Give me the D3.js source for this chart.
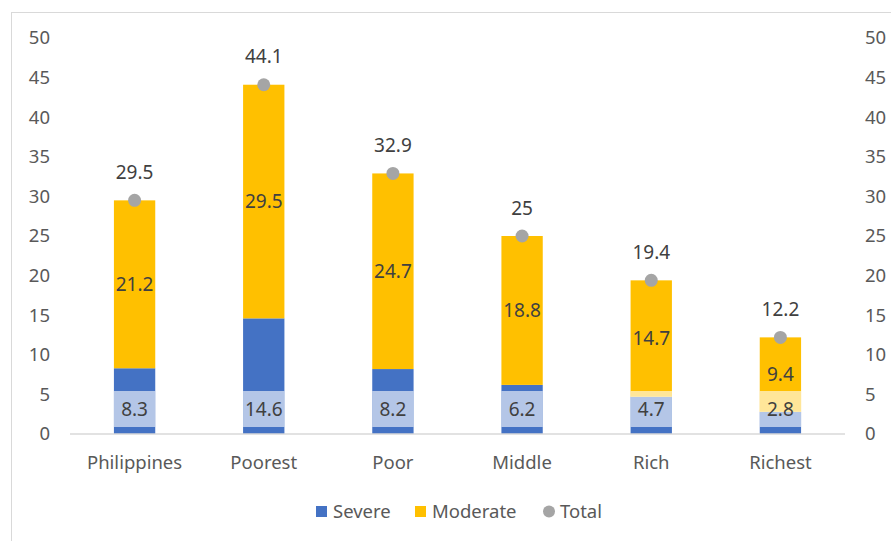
<!DOCTYPE html>
<html><head><meta charset="utf-8">
<script src="https://cdn.jsdelivr.net/npm/d3@7"></script>
<style>body{margin:0;background:#fff}svg{display:block}text{font-family:"Noto Sans","Open Sans",sans-serif}</style>
</head><body><div id="c"></div>
<script>
const categories = ["Philippines","Poorest","Poor","Middle","Rich","Richest"];
const severe = [8.3,14.6,8.2,6.2,4.7,2.8];
const moderate = [21.2,29.5,24.7,18.8,14.7,9.4];
const total = [29.5,44.1,32.9,25,19.4,12.2];
const yTicks = [0,5,10,15,20,25,30,35,40,45,50];
const seriesNames = ["Severe","Moderate","Total"];

const W=891,H=541;
const svg=d3.select("#c").append("svg").attr("width",W).attr("height",H);
svg.append("rect").attr("x",11.5).attr("y",12.5).attr("width",W).attr("height",H).attr("fill","none").attr("stroke","#d9d9d9");

const x=d3.scaleBand().domain(categories).range([70,845]).paddingInner(0.68).paddingOuter(0.34);
const y=d3.scaleLinear().domain([0,50]).range([434,38]);

const lab="#595959";
const fs="18.5px";
// left and right axes
const gl=svg.append("g").attr("transform","translate(50,0)").call(d3.axisLeft(y).tickValues(yTicks).tickSize(0).tickPadding(0));
gl.select(".domain").remove();
gl.selectAll("text").attr("fill",lab).style("font-size",fs).attr("text-anchor","end");
const gr=svg.append("g").attr("transform","translate(865,0)").call(d3.axisRight(y).tickValues(yTicks).tickSize(0).tickPadding(0));
gr.select(".domain").remove();
gr.selectAll("text").attr("fill",lab).style("font-size",fs).attr("text-anchor","start");

const data=categories.map((c,i)=>({c,s:severe[i],m:moderate[i],t:total[i]}));
const bw=x.bandwidth();
// bars
svg.selectAll(".sev").data(data).join("rect").attr("x",d=>x(d.c)).attr("width",bw)
  .attr("y",d=>y(d.s)).attr("height",d=>y(0)-y(d.s)).attr("fill","#4472C4");
svg.selectAll(".mod").data(data).join("rect").attr("x",d=>x(d.c)).attr("width",bw)
  .attr("y",d=>y(d.s+d.m)).attr("height",d=>y(d.s)-y(d.s+d.m)).attr("fill","#FFC000");

// x axis line
svg.append("line").attr("x1",70).attr("x2",845).attr("y1",434).attr("y2",434).attr("stroke","#d9d9d9").attr("stroke-width",1.5);

// severe labels: inside base with light box
const base=y(0)-7;
svg.selectAll(".sbox").data(data).join("rect").attr("x",d=>x(d.c)).attr("width",bw)
  .attr("y",base-36).attr("height",36).attr("fill","#fff").attr("fill-opacity",0.6);
svg.selectAll(".slab").data(data).join("text").attr("x",d=>x(d.c)+bw/2).attr("y",base-18)
  .attr("dy","0.35em").attr("text-anchor","middle").attr("fill","#404040").style("font-size","19px").text(d=>d.s);
// moderate labels
svg.selectAll(".mlab").data(data).join("text").attr("x",d=>x(d.c)+bw/2).attr("y",d=>y(d.s+d.m/2))
  .attr("dy","0.35em").attr("text-anchor","middle").attr("fill","#404040").style("font-size","19px").text(d=>d.m);
// total points
svg.selectAll(".tp").data(data).join("circle").attr("cx",d=>x(d.c)+bw/2).attr("cy",d=>y(d.t)).attr("r",6.5).attr("fill","#A5A5A5");
svg.selectAll(".tl").data(data).join("text").attr("x",d=>x(d.c)+bw/2).attr("y",d=>y(d.t)-28)
  .attr("dy","0.35em").attr("text-anchor","middle").attr("fill","#404040").style("font-size","19px").text(d=>d.t);

// category labels
svg.selectAll(".cl").data(categories).join("text").attr("x",d=>x(d)+bw/2).attr("y",463)
  .attr("dy","0.35em").attr("text-anchor","middle").attr("fill",lab).style("font-size","18.5px").text(d=>d);

// legend
const lg=svg.append("g");
const items=[{n:seriesNames[0],c:"#4472C4",t:"sq",x:316},{n:seriesNames[1],c:"#FFC000",t:"sq",x:415},{n:seriesNames[2],c:"#A5A5A5",t:"ci",x:543}];
items.forEach(it=>{
  if(it.t==="sq") lg.append("rect").attr("x",it.x).attr("y",506).attr("width",11).attr("height",11).attr("fill",it.c);
  else lg.append("circle").attr("cx",it.x+6).attr("cy",511.5).attr("r",6).attr("fill",it.c);
  lg.append("text").attr("x",it.x+17).attr("y",512).attr("dy","0.35em").attr("fill",lab).style("font-size","18.5px").text(it.n);
});
</script></body></html>
